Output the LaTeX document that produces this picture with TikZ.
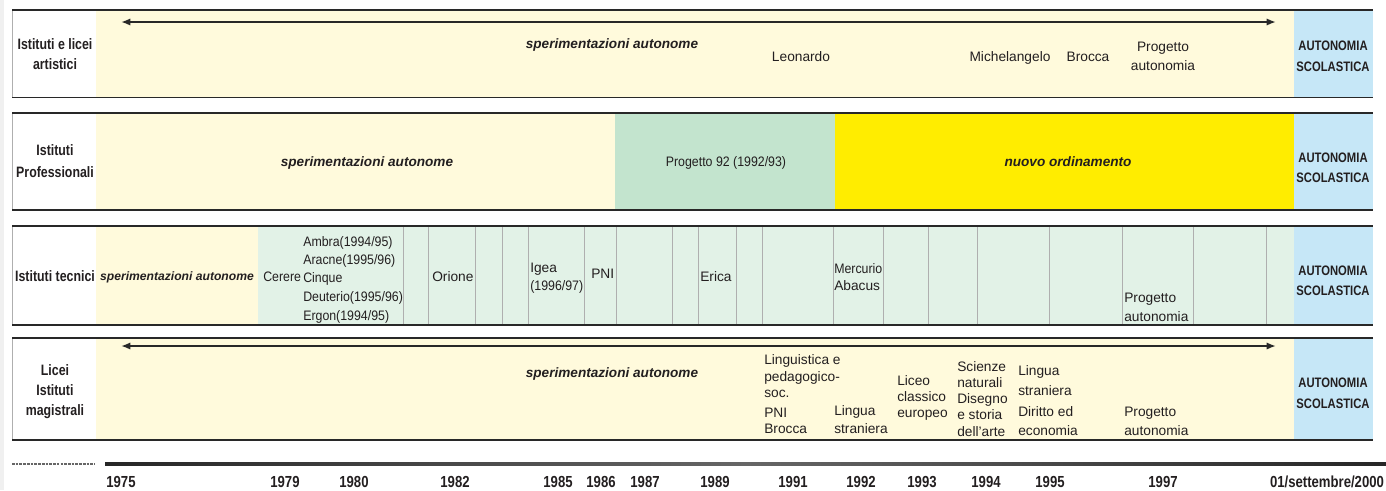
\documentclass[tikz,border=0pt]{standalone}
\usepackage{fontspec}
\setmainfont{Liberation Sans}
\newfontfamily\narrowf[FakeStretch=0.82]{Liberation Sans}
\newfontfamily\condf[FakeStretch=0.9]{Liberation Sans}
\usetikzlibrary{arrows.meta}
\definecolor{cream}{RGB}{255,250,220}
\definecolor{pgreen}{RGB}{195,228,206}
\definecolor{byellow}{RGB}{255,237,0}
\definecolor{ablue}{RGB}{198,231,247}
\definecolor{tgreen}{RGB}{226,242,231}
\definecolor{sepgray}{RGB}{175,175,175}
\definecolor{txtc}{RGB}{35,31,32}
\definecolor{edge}{RGB}{40,40,40}
\tikzset{
  lbl/.style={font=\narrowf\bfseries\fontsize{11.3}{14}\selectfont, text=txtc, inner sep=0, anchor=base},
  aut/.style={font=\narrowf\bfseries\fontsize{10.3}{12}\selectfont, text=txtc, inner sep=0, anchor=base},
  yr/.style={font=\narrowf\bfseries\fontsize{12}{14}\selectfont, text=txtc, inner sep=0, anchor=base},
  itx/.style={font=\bfseries\itshape\fontsize{10.2}{12}\selectfont, text=txtc, inner sep=0, anchor=base},
  itxs/.style={font=\bfseries\itshape\fontsize{9.1}{11}\selectfont, text=txtc, inner sep=0, anchor=base},
  tx/.style={font=\fontsize{10.3}{12}\selectfont, text=txtc, inner sep=0, anchor=base west},
  txm/.style={font=\fontsize{10.3}{12}\selectfont, text=txtc, inner sep=0, anchor=base},
  txc/.style={font=\condf\fontsize{10.3}{12}\selectfont, text=txtc, inner sep=0, anchor=base west},
  txcm/.style={font=\condf\fontsize{10.3}{12}\selectfont, text=txtc, inner sep=0, anchor=base},
  border/.style={draw=edge, line width=1.2pt},
  lborder/.style={draw=sepgray, line width=0.6pt},
  sep/.style={draw=sepgray, line width=0.7pt},
  span/.style={draw=edge, line width=1.5pt, {Latex[length=7pt,width=5.5pt]}-{Latex[length=7pt,width=5.5pt]}},
}
\begin{document}
\begin{tikzpicture}[x=0.75pt,y=-0.75pt]
\useasboundingbox (0,0) rectangle (1386,490);
\fill[white] (0,0) rectangle (1386,490);
\fill[gray!12] (0,0) rectangle (4,490);

% ---------- Row 1 ----------
\fill[cream] (96,10) rectangle (1294,97.5);
\fill[ablue] (1294,10) rectangle (1373,97.5);
\draw[lborder] (12,10) -- (12,97.5);
\draw[border] (12,10) -- (1373,10);
\draw[border] (12,97.5) -- (1373,97.5);
\coordinate (a1l) at (121,22);
\coordinate (a1r) at (1276,22);
\draw[span] (a1l) -- (a1r);
\node[lbl] (r1l1) at (55,49) {Istituti e licei};
\node[lbl] (r1l2) at (55,69) {artistici};
\node[itx] (r1sp) at (612,48) {sperimentazioni autonome};
\node[txm] (r1leo) at (801,61) {Leonardo};
\node[txm] (r1mic) at (1010,61) {Michelangelo};
\node[txm] (r1bro) at (1088,61) {Brocca};
\node[txm] (r1pa) at (1163,51) {Progetto};
\node[txm] (r1pb) at (1163,70) {autonomia};
\node[aut] (r1a1) at (1333,50) {AUTONOMIA};
\node[aut] (r1a2) at (1333,71) {SCOLASTICA};

% ---------- Row 2 ----------
\fill[cream] (96,113) rectangle (615,210);
\fill[pgreen] (615,113) rectangle (835,210);
\fill[byellow] (835,113) rectangle (1294,210);
\fill[ablue] (1294,113) rectangle (1373,210);
\draw[lborder] (12,113) -- (12,210);
\draw[border] (12,113) -- (1373,113);
\draw[border] (12,210) -- (1373,210);
\node[lbl] (r2l1) at (55,155) {Istituti};
\node[lbl] (r2l2) at (55,177) {Professionali};
\node[itx] (r2sp) at (367,166) {sperimentazioni autonome};
\node[txcm] (r2p92) at (726,166) {Progetto 92 (1992/93)};
\node[itx] (r2no) at (1068,166) {nuovo ordinamento};
\node[aut] (r2a1) at (1333,162) {AUTONOMIA};
\node[aut] (r2a2) at (1333,182) {SCOLASTICA};

% ---------- Row 3 ----------
\fill[cream] (96,226) rectangle (258,325);
\fill[tgreen] (258,226) rectangle (1294,325);
\fill[ablue] (1294,226) rectangle (1373,325);
\foreach \xx in {403,428,475,502,528,584,616,672,698,736,762,833,883,928,977,1049,1122,1193,1266}
  \draw[sep] (\xx,226) -- (\xx,325);
\draw[lborder] (12,226) -- (12,325);
\draw[border] (12,226) -- (1373,226);
\draw[border] (12,325) -- (1373,325);
\node[lbl] (r3l1) at (55,281) {Istituti tecnici};
\node[itxs] (r3sp) at (177,280) {sperimentazioni autonome};
\node[txc] (r3cer) at (263,281) {Cerere};
\node[txc] (r3amb) at (303,246) {Ambra(1994/95)};
\node[txc] (r3ara) at (303,264) {Aracne(1995/96)};
\node[txc] (r3cin) at (303,282) {Cinque};
\node[txc] (r3deu) at (303,301) {Deuterio(1995/96)};
\node[txc] (r3erg) at (303,320) {Ergon(1994/95)};
\node[tx] (r3ori) at (432,281) {Orione};
\node[tx] (r3iga) at (530,272) {Igea};
\node[txc] (r3igb) at (530,290) {(1996/97)};
\node[tx] (r3pni) at (591,278) {PNI};
\node[tx] (r3eri) at (700,281) {Erica};
\node[txc] (r3mer) at (834,273) {Mercurio};
\node[tx] (r3aba) at (834,290) {Abacus};
\node[tx] (r3pa) at (1124,302) {Progetto};
\node[tx] (r3pb) at (1124,321) {autonomia};
\node[aut] (r3a1) at (1333,275) {AUTONOMIA};
\node[aut] (r3a2) at (1333,295) {SCOLASTICA};

% ---------- Row 4 ----------
\fill[cream] (96,338) rectangle (1294,440);
\fill[ablue] (1294,338) rectangle (1373,440);
\draw[lborder] (12,338) -- (12,440);
\draw[border] (12,338) -- (1373,338);
\draw[border] (12,440) -- (1373,440);
\coordinate (a4l) at (121,346);
\coordinate (a4r) at (1276,346);
\draw[span] (a4l) -- (a4r);
\node[lbl] (r4l1) at (55,375) {Licei};
\node[lbl] (r4l2) at (55,395) {Istituti};
\node[lbl] (r4l3) at (55,415) {magistrali};
\node[itx] (r4sp) at (612,377) {sperimentazioni autonome};
\node[tx] (r4ling1) at (764,364) {Linguistica e};
\node[tx] (r4ling2) at (764,381) {pedagogico-};
\node[tx] (r4ling3) at (764,397) {soc.};
\node[tx] (r4ling4) at (764,417) {PNI};
\node[tx] (r4ling5) at (764,433) {Brocca};
\node[tx] (r4ls1) at (834,415) {Lingua};
\node[tx] (r4ls2) at (834,433) {straniera};
\node[tx] (r4lc1) at (897,385) {Liceo};
\node[tx] (r4lc2) at (897,401) {classico};
\node[tx] (r4lc3) at (897,417) {europeo};
\node[tx] (r4sc1) at (957,371) {Scienze};
\node[tx] (r4sc2) at (957,387) {naturali};
\node[tx] (r4sc3) at (957,403) {Disegno};
\node[tx] (r4sc4) at (957,419) {e storia};
\node[tx] (r4sc5) at (957,436) {dell'arte};
\node[tx] (r4ld1) at (1018,375) {Lingua};
\node[tx] (r4ld2) at (1018,395) {straniera};
\node[tx] (r4ld3) at (1018,416) {Diritto ed};
\node[tx] (r4ld4) at (1018,435) {economia};
\node[tx] (r4pa) at (1124,416) {Progetto};
\node[tx] (r4pb) at (1124,435) {autonomia};
\node[aut] (r4a1) at (1333,387) {AUTONOMIA};
\node[aut] (r4a2) at (1333,408) {SCOLASTICA};

% ---------- Timeline ----------
\coordinate (dl) at (12,464);
\coordinate (dr) at (95,464);
\draw[gray!80!black, line width=1pt, dash pattern=on 2pt off 0.8pt] (dl) -- (dr);
\shade[left color=black!85, right color=black!85, middle color=black!60] (105,462.3) rectangle (1386,465.7);
\foreach \xx/\lab [count=\i] in {121/1975,285/1979,354/1980,455/1982,558/1985,601/1986,645/1987,715/1989,793/1991,861/1992,922/1993,986/1994,1050/1995,1163/1997,1327/{01/settembre/2000}}
  \node[yr] (y\i) at (\xx,487) {\lab};
\end{tikzpicture}
\end{document}
